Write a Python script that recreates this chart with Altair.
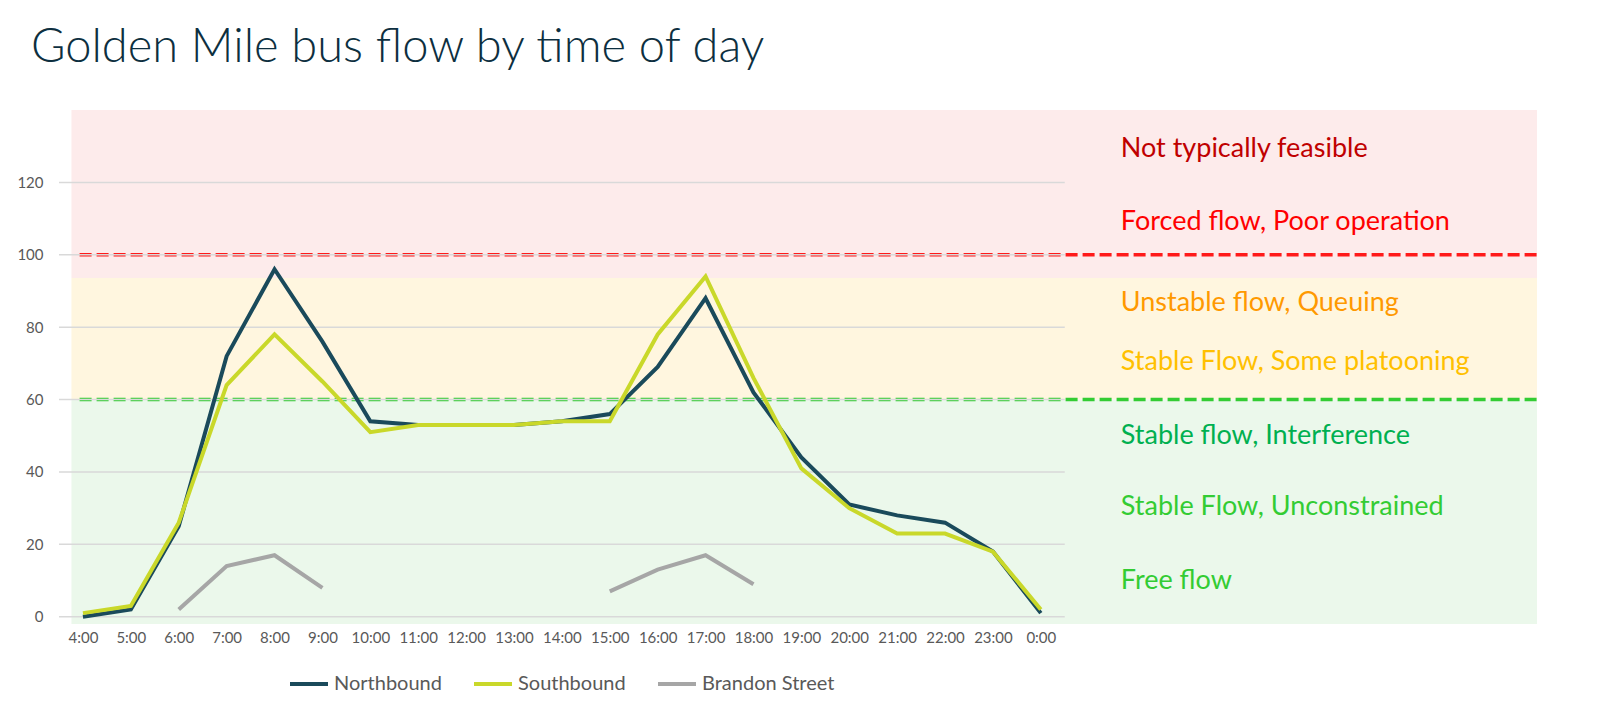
import altair as alt
import pandas as pd

# ---------------- data ----------------
times = ["4:00", "5:00", "6:00", "7:00", "8:00", "9:00", "10:00", "11:00", "12:00",
         "13:00", "14:00", "15:00", "16:00", "17:00", "18:00", "19:00", "20:00",
         "21:00", "22:00", "23:00", "0:00"]
northbound = [0, 2, 25, 72, 96, 76, 54, 53, 53, 53, 54, 56, 69, 88, 62, 44, 31, 28, 26, 18, 1]
southbound = [1, 3, 26, 64, 78, 65, 51, 53, 53, 53, 54, 54, 78, 94, 66, 41, 30, 23, 23, 18, 2]
brandon = [None, None, 2, 14, 17, 8, None, None, None, None, None,
           7, 13, 17, 9, None, None, None, None, None, None]

series_names = ["Northbound", "Southbound", "Brandon Street"]
series_colors = ["#1a4a5b", "#c9d82a", "#a6a6a6"]

zone_lo = [93.6, 60, -2]
zone_hi = [140, 93.6, 60]
zone_fill = ["#fdebeb", "#fff6df", "#ebf8eb"]

threshold_vals = [100, 60]
threshold_colors = ["#ff1a1a", "#33cc33"]

zone_labels = ["Not typically feasible", "Forced flow, Poor operation", "Unstable flow, Queuing",
               "Stable Flow, Some platooning", "Stable flow, Interference",
               "Stable Flow, Unconstrained", "Free flow"]
zone_label_y = [129.2, 109.1, 86.6, 70.3, 49.9, 30.3, 10]
zone_label_colors = ["#c00000", "#ff0000", "#ff9900", "#ffc000", "#00b050", "#33cc33", "#33cc33"]

grid_vals = [0, 20, 40, 60, 80, 100, 120]
title_text = "Golden Mile bus flow by time of day"

# ---------------- build tables ----------------
rows = []
for name, vals in zip(series_names, [northbound, southbound, brandon]):
    seg = 0
    prev_none = True
    for i, v in enumerate(vals):
        if v is None:
            prev_none = True
            continue
        if prev_none:
            seg += 1
        prev_none = False
        rows.append({"i": i, "value": v, "series": name, "seg": f"{name}-{seg}"})
lines_df = pd.DataFrame(rows)

zones_df = pd.DataFrame({"lo": zone_lo, "hi": zone_hi, "fill": zone_fill})
thr_df = pd.DataFrame({"v": threshold_vals, "c": threshold_colors})
lab_df = pd.DataFrame({"t": zone_labels, "y": zone_label_y, "c": zone_label_colors})
grid_df = pd.DataFrame({"v": grid_vals})
title_df = pd.DataFrame({"t": [title_text]})

FONT = "Lato"
W, H = 1478, 514
XMIN, XMAX = -0.5, 30.36
xscale = alt.Scale(domain=[XMIN, XMAX], nice=False, zero=False)
yscale = alt.Scale(domain=[-2, 140], nice=False, zero=False)

label_js = "[" + ",".join(f"'{t}'" for t in times) + "][datum.value]"

x_axis = alt.Axis(values=list(range(len(times))), labelExpr=label_js, title=None,
                  domain=False, ticks=False, grid=False, labelColor="#595959",
                  labelFontSize=15, labelFont=FONT, labelPadding=6)
y_axis = alt.Axis(values=grid_vals, title=None, domain=False, ticks=False, grid=False,
                  labelColor="#595959", labelFontSize=15, labelFont=FONT, labelPadding=16)

bg = alt.Chart(zones_df).mark_rect().encode(
    x=alt.X("x1:Q", scale=xscale, axis=x_axis),
    x2="x2:Q",
    y=alt.Y("lo:Q", scale=yscale, axis=y_axis),
    y2="hi:Q",
    fill=alt.Fill("fill:N", scale=None),
).transform_calculate(x1="-0.24", x2=str(XMAX))

thr = alt.Chart(thr_df).mark_rule(strokeWidth=3.5, strokeDash=[12, 5]).encode(
    x=alt.datum(-0.07, scale=xscale, axis=x_axis),
    x2=alt.datum(XMAX),
    y=alt.Y("v:Q", scale=yscale, axis=y_axis),
    color=alt.Color("c:N", scale=None),
)

grid = alt.Chart(grid_df).mark_rule(strokeWidth=1.5, color="#d9d9d9").encode(
    x=alt.datum(-0.5, scale=xscale, axis=x_axis),
    x2=alt.datum(20.5),
    y=alt.Y("v:Q", scale=yscale, axis=y_axis),
)

lines = alt.Chart(lines_df).mark_line(strokeWidth=4).encode(
    x=alt.X("i:Q", scale=xscale, axis=x_axis),
    y=alt.Y("value:Q", scale=yscale, axis=y_axis),
    color=alt.Color("series:N",
                    scale=alt.Scale(domain=series_names, range=series_colors),
                    legend=alt.Legend(title=None, orient="none", legendX=229, legendY=553,
                                      direction="horizontal", symbolType="stroke",
                                      symbolStrokeWidth=4, symbolSize=1444,
                                      labelFontSize=20, labelColor="#595959", labelFont=FONT,
                                      columnPadding=24, labelOffset=4)),
    detail="seg:N",
    order="i:Q",
)

labels = alt.Chart(lab_df).mark_text(align="left", baseline="middle", fontSize=27, font=FONT).encode(
    x=alt.datum(21.67, scale=xscale, axis=x_axis),
    y=alt.Y("y:Q", scale=yscale, axis=y_axis),
    text="t:N",
    color=alt.Color("c:N", scale=None),
)

title = alt.Chart(title_df).mark_text(align="left", baseline="alphabetic", fontSize=47,
                                      font=FONT, fontWeight=300, color="#0d2f40").encode(
    x=alt.value(-28), y=alt.value(-48), text="t:N")

chart = alt.layer(bg, thr, grid, lines, labels, title).properties(
    width=W, height=H,
    padding={"left": 51, "top": 102, "right": 55, "bottom": 76},
    autosize="none",
).configure_view(stroke=None)

chart.save("out.html", embed_options={"renderer": "svg", "actions": False})
